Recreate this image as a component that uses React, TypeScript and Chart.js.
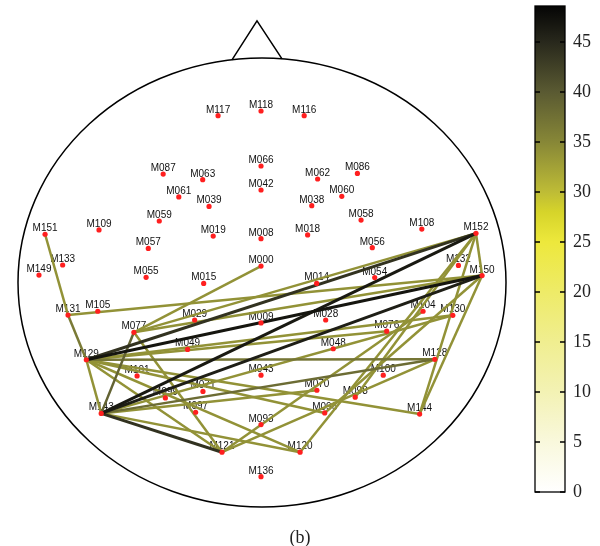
import React, { useEffect, useRef } from "react";
import { Chart, registerables } from "chart.js";

Chart.register(...registerables);

// ---- sensor layout (head-relative units: x right, y up; head outline = unit ellipse)
const sensorNames = [
  "M117", "M118", "M116", "M087", "M063", "M066", "M062", "M086", "M061", "M039",
  "M042", "M038", "M060", "M059", "M058", "M151", "M109", "M057", "M019", "M008",
  "M018", "M108", "M152", "M056", "M133", "M149", "M055", "M015", "M000", "M014",
  "M054", "M132", "M150", "M131", "M105", "M077", "M029", "M009", "M028", "M076",
  "M104", "M130", "M129", "M049", "M048", "M128", "M101", "M043", "M100", "M071",
  "M070", "M098", "M099", "M097", "M143", "M096", "M093", "M144", "M121", "M120",
  "M136",
];
const sensorX = [
  -0.180, -0.004, 0.173, -0.405, -0.243, -0.004, 0.228, 0.391, -0.341, -0.217,
  -0.004, 0.204, 0.327, -0.421, 0.406, -0.889, -0.668, -0.466, -0.200, -0.004,
  0.187, 0.655, 0.877, 0.452, -0.817, -0.914, -0.475, -0.239, -0.004, 0.224,
  0.462, 0.805, 0.902, -0.795, -0.673, -0.525, -0.276, -0.004, 0.261, 0.511,
  0.660, 0.782, -0.720, -0.305, 0.292, 0.708, -0.512, -0.004, 0.497, -0.242,
  0.225, 0.382, -0.396, -0.272, -0.659, 0.257, -0.004, 0.646, -0.164, 0.156,
  -0.004,
];
const sensorY = [
  0.743, 0.764, 0.743, 0.483, 0.458, 0.519, 0.461, 0.486, 0.381, 0.339,
  0.412, 0.342, 0.384, 0.274, 0.278, 0.215, 0.234, 0.152, 0.207, 0.195,
  0.212, 0.238, 0.219, 0.155, 0.078, 0.033, 0.023, -0.004, 0.073, -0.004,
  0.022, 0.076, 0.031, -0.145, -0.128, -0.222, -0.167, -0.180, -0.167, -0.217,
  -0.128, -0.146, -0.344, -0.298, -0.295, -0.342, -0.416, -0.413, -0.413, -0.485,
  -0.480, -0.511, -0.514, -0.578, -0.583, -0.581, -0.633, -0.586, -0.756, -0.756,
  -0.865,
];

// ---- connections (from, to, strength)
const edgeFrom = [
  "M129", "M129", "M143", "M143", "M143", "M077", "M129", "M131", "M143",
  "M151", "M129", "M131", "M000", "M077", "M077", "M077", "M129", "M129",
  "M129", "M129", "M129", "M129", "M143", "M143", "M128", "M104", "M152",
  "M152", "M150", "M152", "M150", "M152", "M143",
];
const edgeTo = [
  "M150", "M152", "M152", "M150", "M121", "M143", "M128", "M129", "M128",
  "M131", "M143", "M150", "M077", "M152", "M150", "M121", "M130", "M076",
  "M144", "M121", "M120", "M096", "M130", "M120", "M121", "M121", "M120",
  "M144", "M144", "M150", "M096", "M098", "M070",
];
const edgeValue = [
  47, 44, 46.5, 46, 44, 39, 37, 36.5, 38,
  34, 34, 34, 34, 34, 34, 34, 34, 34,
  34, 34, 34, 34, 34, 34, 34, 34, 34,
  34, 34, 34, 34, 34, 34,
];

// ---- nose outline (head-relative units)
const noseX = [-0.123, -0.0205, 0.082];
const noseY = [0.992, 1.165, 0.996];

// ---- colour bar
const colorbarTicks = [0, 5, 10, 15, 20, 25, 30, 35, 40, 45];
const colorbarMin = 0;
const colorbarMax = 48.6;
const cmapValues = [0, 5, 10, 15, 20, 25, 28, 30, 35, 40, 45, 48.6];
const cmapColors = [
  "#ffffff", "#f9f8dc", "#f3f2b4", "#f0ee90", "#eeeb68", "#ede83c",
  "#d6d42a", "#bebc36", "#878737", "#5a5a32", "#28281c", "#050505",
];
const caption = "(b)";

function hexToRgb(h: string) {
  const n = parseInt(h.slice(1), 16);
  return [(n >> 16) & 255, (n >> 8) & 255, n & 255];
}
function colorAt(v: number) {
  if (v <= cmapValues[0]) return cmapColors[0];
  for (let i = 1; i < cmapValues.length; i++) {
    if (v <= cmapValues[i]) {
      const t = (v - cmapValues[i - 1]) / (cmapValues[i] - cmapValues[i - 1]);
      const a = hexToRgb(cmapColors[i - 1]);
      const b = hexToRgb(cmapColors[i]);
      const c = a.map((x, k) => Math.round(x + (b[k] - x) * t));
      return `rgb(${c[0]},${c[1]},${c[2]})`;
    }
  }
  return cmapColors[cmapColors.length - 1];
}

const W = 600;
const H = 546;

export default function App() {
  const mainRef = useRef<HTMLCanvasElement>(null);
  const barRef = useRef<HTMLCanvasElement>(null);

  useEffect(() => {
    const idx = (n: string) => sensorNames.indexOf(n);

    const headPlugin = {
      id: "head",
      beforeDatasetsDraw(chart: any) {
        const { ctx, scales } = chart;
        const xs = scales.x;
        const ys = scales.y;
        const cx = xs.getPixelForValue(0);
        const cy = ys.getPixelForValue(0);
        const rx = xs.getPixelForValue(1) - cx;
        const ry = cy - ys.getPixelForValue(1);
        ctx.save();
        ctx.strokeStyle = "#000";
        ctx.lineWidth = 1.5;
        ctx.beginPath();
        ctx.ellipse(cx, cy, rx, ry, 0, 0, Math.PI * 2);
        ctx.stroke();
        ctx.beginPath();
        noseX.forEach((x, i) => {
          const px = xs.getPixelForValue(x);
          const py = ys.getPixelForValue(noseY[i]);
          if (i === 0) ctx.moveTo(px, py);
          else ctx.lineTo(px, py);
        });
        ctx.stroke();
        // sensor labels
        ctx.fillStyle = "#111";
        ctx.font = "10px 'Liberation Sans', Arial, sans-serif";
        ctx.textAlign = "center";
        ctx.textBaseline = "alphabetic";
        sensorNames.forEach((n, i) => {
          const px = xs.getPixelForValue(sensorX[i]);
          const py = ys.getPixelForValue(sensorY[i]);
          ctx.fillText(n, px, py - 3);
        });
        ctx.restore();
      },
    };

    const edgeSets = edgeFrom.map((f, i) => {
      const a = idx(f);
      const b = idx(edgeTo[i]);
      const v = edgeValue[i];
      return {
        type: "scatter" as const,
        showLine: true,
        data: [
          { x: sensorX[a], y: sensorY[a] },
          { x: sensorX[b], y: sensorY[b] },
        ],
        borderColor: colorAt(v),
        borderWidth: v > 42 ? 3 : 2.5,
        pointRadius: 0,
        order: -v,
        clip: false as any,
      };
    });

    const main = new Chart(mainRef.current!, {
      type: "scatter",
      data: {
        datasets: [
          {
            data: sensorNames.map((_, i) => ({ x: sensorX[i], y: sensorY[i] })),
            pointRadius: 2.6,
            pointBackgroundColor: "#ff1f1f",
            pointBorderWidth: 0,
            order: -1000,
            clip: false as any,
          },
          ...edgeSets,
        ] as any,
      },
      options: {
        responsive: false,
        animation: false,
        events: [],
        layout: { padding: { left: 18, right: 94, top: 58, bottom: 39 } },
        plugins: { legend: { display: false }, tooltip: { enabled: false } },
        scales: {
          x: { type: "linear", min: -1, max: 1, display: false },
          y: { type: "linear", min: -1, max: 1, display: false },
        },
      },
      plugins: [headPlugin],
    });

    const barPlugin = {
      id: "cbar",
      beforeDatasetsDraw(chart: any) {
        const { ctx, chartArea, scales } = chart;
        const ys = scales.y;
        const g = ctx.createLinearGradient(0, ys.getPixelForValue(colorbarMin), 0, ys.getPixelForValue(colorbarMax));
        cmapValues.forEach((v, i) => {
          g.addColorStop((v - colorbarMin) / (colorbarMax - colorbarMin), cmapColors[i]);
        });
        ctx.save();
        ctx.fillStyle = g;
        ctx.fillRect(chartArea.left, chartArea.top, chartArea.right - chartArea.left, chartArea.bottom - chartArea.top);
        ctx.strokeStyle = "#000";
        ctx.lineWidth = 1.3;
        ctx.strokeRect(chartArea.left, chartArea.top, chartArea.right - chartArea.left, chartArea.bottom - chartArea.top);
        ctx.lineWidth = 1.5;
        colorbarTicks.forEach((t) => {
          const y = ys.getPixelForValue(t);
          ctx.beginPath();
          ctx.moveTo(chartArea.left, y);
          ctx.lineTo(chartArea.left + 5, y);
          ctx.moveTo(chartArea.right - 5, y);
          ctx.lineTo(chartArea.right, y);
          ctx.stroke();
        });
        ctx.restore();
      },
    };

    const bar = new Chart(barRef.current!, {
      type: "scatter",
      data: { datasets: [{ data: [] }] },
      options: {
        responsive: false,
        animation: false,
        events: [],
        layout: { padding: { left: 535, right: 0, top: 6, bottom: 54 } },
        plugins: { legend: { display: false }, tooltip: { enabled: false } },
        scales: {
          x: { type: "linear", min: 0, max: 1, display: false },
          y: {
            type: "linear",
            position: "right",
            min: colorbarMin,
            max: colorbarMax,
            grid: { display: false, drawTicks: false },
            border: { display: false },
            afterBuildTicks: (s: any) => {
              s.ticks = colorbarTicks.map((v) => ({ value: v }));
            },
            afterFit: (s: any) => {
              s.width = 35;
              s.paddingTop = 0;
              s.paddingBottom = 0;
            },
            ticks: {
              padding: 8,
              color: "#222",
              font: { family: "'Liberation Serif', 'DejaVu Serif', serif", size: 18 },
            },
          },
        },
      },
      plugins: [barPlugin],
    });

    return () => {
      main.destroy();
      bar.destroy();
    };
  }, []);

  return (
    <div style={{ position: "absolute", left: 0, top: 0, width: W, height: H, background: "#fff" }}>
      <canvas ref={mainRef} width={W} height={H} style={{ position: "absolute", left: 0, top: 0 }} />
      <canvas ref={barRef} width={W} height={H} style={{ position: "absolute", left: 0, top: 0, pointerEvents: "none" }} />
      <div
        style={{
          position: "absolute",
          left: 0,
          top: 527,
          width: W,
          height: 20,
          lineHeight: "20px",
          textAlign: "center",
          fontFamily: "'Liberation Serif', 'DejaVu Serif', serif",
          fontSize: 18,
          color: "#222",
        }}
      >
        {caption}
      </div>
    </div>
  );
}
